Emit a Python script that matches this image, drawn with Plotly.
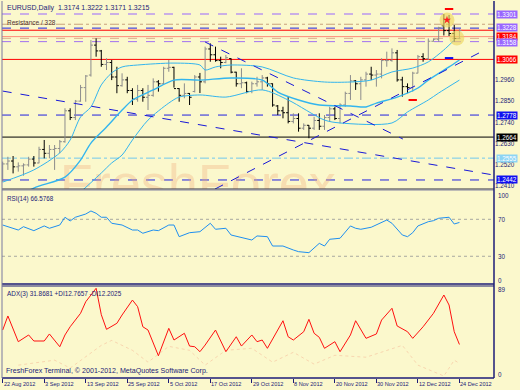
import plotly.graph_objects as go

BG = "#FBF8CC"
NAVY = "#1C1C78"
FONT = "Liberation Sans"

# ---------------- data ----------------
tick_idx = [0, 8, 16, 24, 32, 40, 48, 56, 64, 72, 80, 88]
tick_labels = ["22 Aug 2012", "3 Sep 2012", "13 Sep 2012", "25 Sep 2012", "5 Oct 2012",
               "17 Oct 2012", "29 Oct 2012", "8 Nov 2012", "20 Nov 2012", "30 Nov 2012",
               "12 Dec 2012", "24 Dec 2012"]

opens = [1.2440, 1.2525, 1.2540, 1.2510, 1.2515, 1.2520, 1.2550, 1.2530, 1.2600, 1.2580,
         1.2600, 1.2605, 1.2640, 1.2800, 1.2765, 1.2850, 1.2920, 1.2985, 1.3140, 1.3110,
         1.3040, 1.3050, 1.2975, 1.2930, 1.2960, 1.2905, 1.2860, 1.2905, 1.2870, 1.2880,
         1.2950, 1.2940, 1.3020, 1.3025, 1.2915, 1.2880, 1.2890, 1.2900, 1.2975, 1.2950,
         1.3120, 1.3090, 1.3060, 1.3050, 1.3070, 1.3000, 1.2940, 1.2945, 1.2900, 1.2940,
         1.2950, 1.2970, 1.2940, 1.2825, 1.2800, 1.2790, 1.2745, 1.2760, 1.2710, 1.2725,
         1.2710, 1.2750, 1.2720, 1.2765, 1.2810, 1.2760, 1.2830, 1.2890, 1.2955, 1.2940,
         1.2960, 1.2990, 1.2985, 1.2990, 1.3060, 1.3060, 1.3100, 1.2960, 1.2925, 1.2920,
         1.2995, 1.3080, 1.3070, 1.3160, 1.3170, 1.3240, 1.3215, 1.3200, 1.3174]
highs = [1.2537, 1.2562, 1.2566, 1.2533, 1.2528, 1.2562, 1.2566, 1.2614, 1.2649, 1.2623,
         1.2623, 1.2649, 1.2813, 1.2813, 1.2856, 1.2934, 1.2985, 1.3166, 1.3175, 1.3115,
         1.3072, 1.3063, 1.3028, 1.2994, 1.2976, 1.2917, 1.2934, 1.2917, 1.2934, 1.2968,
         1.2959, 1.3028, 1.3063, 1.3028, 1.2917, 1.2942, 1.2892, 1.2985, 1.2996, 1.3132,
         1.3149, 1.3132, 1.3080, 1.3089, 1.3072, 1.3002, 1.3020, 1.2951, 1.2951, 1.2976,
         1.2985, 1.2976, 1.2942, 1.2830, 1.2821, 1.2873, 1.2787, 1.2787, 1.2735, 1.2726,
         1.2769, 1.2787, 1.2778, 1.2821, 1.2821, 1.2839, 1.2899, 1.2985, 1.2959, 1.2976,
         1.3002, 1.3028, 1.3011, 1.3072, 1.3106, 1.3123, 1.3115, 1.2976, 1.2942, 1.3002,
         1.3089, 1.3098, 1.3175, 1.3175, 1.3235, 1.3301, 1.3296, 1.3244, 1.3222]
lows = [1.2433, 1.2494, 1.2476, 1.2485, 1.2464, 1.2511, 1.2511, 1.2528, 1.2554, 1.2554,
        1.2494, 1.2580, 1.2635, 1.2752, 1.2752, 1.2847, 1.2847, 1.2977, 1.3080, 1.3028,
        1.3011, 1.2959, 1.2891, 1.2925, 1.2891, 1.2830, 1.2847, 1.2847, 1.2804, 1.2873,
        1.2899, 1.2934, 1.3002, 1.2920, 1.2847, 1.2865, 1.2830, 1.2895, 1.2892, 1.2942,
        1.3054, 1.3054, 1.3020, 1.3046, 1.2994, 1.2925, 1.2917, 1.2891, 1.2891, 1.2925,
        1.2908, 1.2925, 1.2821, 1.2778, 1.2761, 1.2735, 1.2735, 1.2692, 1.2701, 1.2658,
        1.2701, 1.2701, 1.2701, 1.2743, 1.2752, 1.2735, 1.2821, 1.2856, 1.2908, 1.2856,
        1.2925, 1.2959, 1.2925, 1.2968, 1.3028, 1.3054, 1.2951, 1.2873, 1.2891, 1.2899,
        1.2994, 1.3054, 1.3063, 1.3158, 1.3158, 1.3190, 1.3187, 1.3158, 1.3171]
closes = [1.2525, 1.2540, 1.2510, 1.2515, 1.2520, 1.2550, 1.2530, 1.2600, 1.2580, 1.2600,
          1.2605, 1.2640, 1.2800, 1.2765, 1.2850, 1.2920, 1.2980, 1.3140, 1.3110, 1.3040,
          1.3050, 1.2975, 1.2930, 1.2960, 1.2905, 1.2860, 1.2905, 1.2870, 1.2880, 1.2950,
          1.2940, 1.3020, 1.3025, 1.2915, 1.2880, 1.2890, 1.2870, 1.2975, 1.2950, 1.3120,
          1.3090, 1.3060, 1.3050, 1.3075, 1.3000, 1.2940, 1.2945, 1.2900, 1.2940, 1.2950,
          1.2970, 1.2940, 1.2830, 1.2800, 1.2790, 1.2745, 1.2760, 1.2710, 1.2725, 1.2710,
          1.2750, 1.2720, 1.2765, 1.2810, 1.2760, 1.2830, 1.2890, 1.2955, 1.2940, 1.2960,
          1.2990, 1.2985, 1.2990, 1.3060, 1.3060, 1.3100, 1.2960, 1.2925, 1.2920, 1.2995,
          1.3080, 1.3070, 1.3160, 1.3170, 1.3230, 1.3215, 1.3200, 1.3174, 1.3215]
bar_idx = list(range(len(opens)))

# three light-blue band lines (read at sampled bars)
upper_idx = [0, 6, 11, 13, 15, 17, 19, 21, 23, 26, 33, 38, 39, 41, 44, 50, 56, 62, 67, 71, 75, 79, 82, 85, 87]
upper_px = [1.2431, 1.2494, 1.2582, 1.2649, 1.2768, 1.2820, 1.2934, 1.2996, 1.3027, 1.3037,
            1.3047, 1.3037, 1.3011, 1.3027, 1.3037, 1.3027, 1.2970, 1.2949, 1.2949, 1.2959,
            1.3001, 1.3021, 1.3053, 1.3115, 1.3166]
mid_idx = [0, 6, 12, 15, 17, 20, 23, 25, 26, 29, 33, 38, 44, 50, 53, 57, 61, 67, 70, 72, 76, 80, 82, 86, 88]
mid_px = [1.2312, 1.2400, 1.2457, 1.2545, 1.2633, 1.2716, 1.2804, 1.2856, 1.2871, 1.2908,
          1.2959, 1.2959, 1.2970, 1.2959, 1.2897, 1.2856, 1.2830, 1.2825, 1.2820, 1.2840,
          1.2871, 1.2918, 1.2959, 1.3027, 1.3063]
lower_idx = [13, 15, 19, 21, 23, 25, 28, 32, 34, 38, 43, 50, 55, 62, 65, 75, 78, 82, 84, 88]
lower_px = [1.2338, 1.2380, 1.2478, 1.2530, 1.2571, 1.2649, 1.2752, 1.2840, 1.2871, 1.2882,
            1.2871, 1.2908, 1.2856, 1.2752, 1.2737, 1.2737, 1.2794, 1.2856, 1.2892, 1.2959]

# dashed blue trend lines: (start bar, start price, end bar, end price)
trend_x0 = [0, 39.0, 40.9]
trend_p0 = [1.2902, 1.3156, 1.2395]
trend_x1 = [94.5, 77.1, 92.9]
trend_p1 = [1.2468, 1.2654, 1.3115]

# horizontal levels
levels = [1.3301, 1.3248, 1.3228, 1.3217, 1.3184, 1.3175, 1.3158, 1.3066, 1.2778, 1.2664, 1.2555, 1.2442]
level_color = ["#9966FF", "#C8A07A", "#2020E0", "#FF0000", "#FF8C7A", "#D8B090", "#A070F0",
               "#FF0000", "#2020E0", "#000000", "#70C8EE", "#2020E0"]
level_dash = ["dash", "dashdot", "dash", "solid", "solid", "dash", "dash",
              "solid", "dash", "solid", "dashdot", "dash"]
level_box = ["#9966FF", None, "#9966FF", None, "#FF0000", None, "#9966FF",
             "#FF0000", "#1010F0", "#000000", "#8CD4F4", "#1010F0"]
level_nudge = [0, 0, 1, 0, 0.5, 0, -1, 0, 0, 0, 0, 0]

# markers near the December top
fractal_idx = [86, 86, 79]
fractal_px = [1.3327, 1.3073, 1.2856]
fractal_col = ["#FF0000", "#1010F0", "#FF0000"]
circle_idx = [85.6, 87.5]
circle_px = [1.3270, 1.3177]

# RSI(14)
rsi_idx = [0, 1, 3, 4, 6, 8, 9, 11, 12, 13, 14, 16, 17, 18, 19, 20, 21, 23, 25, 26, 27, 29, 30,
           32, 33, 34, 36, 38, 40, 41, 43, 44, 46, 48, 49, 51, 52, 54, 56, 57, 59, 60, 61, 62,
           63, 65, 67, 68, 69, 71, 72, 74, 75, 77, 78, 79, 80, 82, 83, 84, 86, 87, 88]
rsi_val = [63.8, 62.0, 58.4, 62.0, 57.7, 62.8, 60.3, 63.8, 72.2, 68.2, 72.2, 75.7, 79.0, 76.5,
           72.2, 72.2, 65.7, 63.8, 58.4, 58.4, 54.9, 58.4, 57.7, 63.8, 63.8, 51.2, 55.5, 56.6,
           65.7, 59.2, 60.3, 53.0, 50.5, 47.6, 52.0, 51.2, 41.1, 41.1, 36.8, 35.0, 33.9, 38.6,
           44.0, 41.1, 48.4, 49.5, 62.8, 60.3, 59.2, 61.4, 63.8, 69.2, 65.7, 53.0, 51.2, 55.5,
           62.8, 67.4, 68.5, 71.1, 72.2, 64.9, 66.6]
rsi_ticks = [100, 70, 30, 0]

# ADX(3)
adx_idx = [0, 1, 3, 5, 6, 8, 9, 11, 12, 13, 15, 16, 18, 19, 20, 22, 23, 25, 26, 27, 28, 30,
           32, 33, 35, 36, 37, 38, 39, 41, 43, 45, 46, 48, 49, 50, 51, 53, 54, 55, 56, 58, 59,
           60, 61, 62, 64, 65, 67, 68, 70, 72, 73, 75, 76, 78, 79, 81, 83, 85, 86, 87, 88]
adx_val = [46.5, 60.7, 34.7, 41.5, 35.4, 35.4, 42.5, 29.6, 41.5, 49.8, 63.4, 75.1, 88.7, 62.0,
           47.2, 53.3, 61.7, 76.8, 70.1, 49.8, 46.5, 20.5, 48.2, 36.4, 43.2, 30.3, 29.6, 24.6,
           31.3, 46.5, 24.6, 39.7, 30.3, 41.5, 34.7, 36.4, 28.0, 46.5, 55.9, 39.7, 36.4, 44.8,
           57.3, 43.2, 39.1, 28.0, 34.7, 24.6, 41.5, 55.9, 38.1, 42.5, 56.6, 68.5, 50.6, 44.8,
           38.1, 49.8, 63.4, 81.9, 71.8, 44.8, 31.9]
di_idx = [3, 10, 13, 19, 21, 25, 28, 32, 36, 39, 43, 48, 52, 56, 60, 64, 70, 77, 80, 85, 87, 88]
di_val = [11, 16, 8, 31, 36, 26, 14, 30, 26, 11, 26, 28, 14, 24, 12, 21, 19, 31, 11, 0, 16, 12.8]
adx_ticks = [89, 0]

# ---------------- figure ----------------
XR = [-0.135, 94.66]
D_MAIN = [0.5013, 1.0]
D_RSI = [0.2493, 0.4987]
D_ADX = [0.0, 0.2440]

fig = go.Figure()

# watermark (clipped by the main plot area)
fig.add_trace(go.Scatter(x=[37.6], y=[1.2396], mode="text", text=["FreshForex"],
                         textfont=dict(family=FONT, size=54, color="rgba(240,170,120,0.33)"),
                         textposition="middle center", hoverinfo="skip", showlegend=False,
                         cliponaxis=True, xaxis="x", yaxis="y"))

for ix, px, w in [(upper_idx, upper_px, 1), (mid_idx, mid_px, 1.4), (lower_idx, lower_px, 1)]:
    fig.add_trace(go.Scatter(x=ix, y=px, mode="lines", line=dict(color="#33B5EE", width=w, shape="spline", smoothing=0.8),
                             hoverinfo="skip", showlegend=False, xaxis="x", yaxis="y"))

for a, pa, b, pb in zip(trend_x0, trend_p0, trend_x1, trend_p1):
    fig.add_trace(go.Scatter(x=[a, b], y=[pa, pb], mode="lines",
                             line=dict(color="#1818D8", width=1, dash="dash"),
                             hoverinfo="skip", showlegend=False, xaxis="x", yaxis="y"))

fig.add_trace(go.Scatter(x=circle_idx, y=circle_px, mode="markers",
                         marker=dict(size=15, color="rgba(236,214,96,0.65)", line=dict(width=0)),
                         hoverinfo="skip", showlegend=False, xaxis="x", yaxis="y"))

fig.add_trace(go.Ohlc(x=bar_idx, open=opens, high=highs, low=lows, close=closes,
                      increasing=dict(line=dict(color="#8C8C8C", width=1)),
                      decreasing=dict(line=dict(color="#000000", width=1)),
                      tickwidth=0.4, hoverinfo="skip", showlegend=False, xaxis="x", yaxis="y"))

fig.add_trace(go.Scatter(x=[circle_idx[0]], y=[circle_px[0]], mode="markers",
                         marker=dict(size=6, symbol="star", color="#FF2020"),
                         hoverinfo="skip", showlegend=False, xaxis="x", yaxis="y"))
fig.add_trace(go.Scatter(x=fractal_idx, y=fractal_px, mode="markers",
                         marker=dict(size=6, symbol="line-ew", line=dict(color=fractal_col, width=2)),
                         hoverinfo="skip", showlegend=False, xaxis="x", yaxis="y"))

# RSI
fig.add_trace(go.Scatter(x=rsi_idx, y=rsi_val, mode="lines", line=dict(color="#1E8FF0", width=1),
                         hoverinfo="skip", showlegend=False, xaxis="x2", yaxis="y2"))
# ADX and DI
fig.add_trace(go.Scatter(x=di_idx, y=di_val, mode="lines", line=dict(color="rgba(240,150,120,0.35)", width=1, dash="dot"),
                         hoverinfo="skip", showlegend=False, xaxis="x3", yaxis="y3"))
fig.add_trace(go.Scatter(x=adx_idx, y=adx_val, mode="lines", line=dict(color="#FF1010", width=1),
                         hoverinfo="skip", showlegend=False, xaxis="x3", yaxis="y3"))

AX_FS = 6.3
shapes = []
annotations = []
for lv, col, ds, box, nd in zip(levels, level_color, level_dash, level_box, level_nudge):
    shapes.append(dict(type="line", xref="x domain", x0=0, x1=1, yref="y", y0=lv, y1=lv,
                       line=dict(color=col, width=1, dash=ds), layer="below"))
    if box:
        annotations.append(dict(xref="paper", x=1, xanchor="left", xshift=2, yref="y", y=lv,
                                yanchor="middle", yshift=nd, text=f"{lv:.4f}", showarrow=False,
                                bgcolor=box, borderpad=0,
                                font=dict(family=FONT, size=AX_FS, color="white")))
for lv in [70, 30]:
    shapes.append(dict(type="line", xref="x2 domain", x0=0, x1=1, yref="y2", y0=lv, y1=lv,
                       line=dict(color="#A8A8A0", width=1, dash="dot"), layer="below"))

# panel borders
def hline(y, color, w=1):
    shapes.append(dict(type="line", xref="paper", yref="paper", x0=0, x1=1, y0=y, y1=y,
                       line=dict(color=color, width=w)))
hline(D_MAIN[0], "#303040")
hline(D_RSI[1], "#8080A0")
hline(D_RSI[0], NAVY, 1.5)
hline(D_ADX[1], NAVY, 1)
hline(0, NAVY, 1.5)
shapes.append(dict(type="line", xref="paper", yref="paper", x0=1, x1=1, y0=0, y1=1,
                   line=dict(color=NAVY, width=1.5)))
shapes.append(dict(type="line", xref="paper", yref="paper", x0=0, x1=0, y0=0, y1=1,
                   line=dict(color="#7878A0", width=1)))

small = dict(family=FONT, size=7, color=NAVY)
axf = dict(family=FONT, size=AX_FS, color=NAVY)
annotations += [
    dict(xref="paper", yref="paper", x=0, y=1, xanchor="left", yanchor="top", xshift=3, yshift=-1,
         text="EURUSD,Daily  1.3174 1.3222 1.3171 1.3215", showarrow=False, font=small),
    dict(xref="paper", yref="y", x=0, y=1.3228, xanchor="left", yanchor="bottom", xshift=3,
         text="Resistance / 328", showarrow=False, font=dict(family=FONT, size=6.5, color="#503030")),
    dict(xref="paper", yref="paper", x=0, y=D_RSI[1], xanchor="left", yanchor="top", xshift=3, yshift=-3,
         text="RSI(14) 66.5768", showarrow=False, font=dict(family=FONT, size=6.3, color=NAVY)),
    dict(xref="paper", yref="paper", x=0, y=D_ADX[1], xanchor="left", yanchor="top", xshift=3, yshift=-2,
         text="ADX(3) 31.8681 +DI12.7657 -DI12.2025", showarrow=False,
         font=dict(family=FONT, size=6.4, color=NAVY)),
    dict(xref="paper", yref="paper", x=0, y=0, xanchor="left", yanchor="bottom", xshift=2, yshift=1,
         text="FreshForex Terminal, © 2001-2012, MetaQuotes Software Corp.", showarrow=False,
         font=dict(family=FONT, size=7.1, color=NAVY)),
]
# indicator scale labels (MT4 keeps the extreme labels inside the window)
for v, ys in zip(rsi_ticks, [-4, 0, 0, 4]):
    annotations.append(dict(xref="paper", x=1, xanchor="left", xshift=2, yref="y2", y=v,
                            yanchor="middle", yshift=ys, text=str(v), showarrow=False, font=axf))
for v, ys in zip(adx_ticks, [-2, 2]):
    annotations.append(dict(xref="paper", x=1, xanchor="left", xshift=2, yref="y3", y=v,
                            yanchor="middle", yshift=ys, text=str(v), showarrow=False, font=axf))
for ti, tl in zip(tick_idx, tick_labels):
    annotations.append(dict(xref="x3", yref="paper", x=ti, y=0, xanchor="left", yanchor="top",
                            xshift=-1, yshift=-1, text=tl, showarrow=False,
                            font=dict(family=FONT, size=5.6, color=NAVY)))

axis_common = dict(showgrid=False, zeroline=False, showline=False)
fig.update_layout(
    template="none",
    width=520, height=390,
    margin=dict(l=2, r=26, t=1, b=12, pad=0),
    paper_bgcolor=BG, plot_bgcolor=BG,
    showlegend=False,
    xaxis=dict(domain=[0, 1], anchor="y", range=XR, showticklabels=False, ticks="",
               rangeslider=dict(visible=False), **axis_common),
    xaxis2=dict(domain=[0, 1], anchor="y2", range=XR, showticklabels=False, ticks="", **axis_common),
    xaxis3=dict(domain=[0, 1], anchor="y3", range=XR, showticklabels=False, ticks="outside",
                ticklen=4, tickcolor=NAVY, tickwidth=1, tickvals=tick_idx, **axis_common),
    yaxis=dict(domain=D_MAIN, anchor="x", side="right", range=[1.23952, 1.33683],
               tickvals=[1.2960, 1.2850, 1.2740, 1.2630, 1.2520, 1.2410], tickformat=".4f",
               ticks="", tickfont=axf, automargin=False, **axis_common),
    yaxis2=dict(domain=D_RSI, anchor="x2", side="right", range=[0, 101.7],
                showticklabels=False, ticks="", automargin=False, **axis_common),
    yaxis3=dict(domain=D_ADX, anchor="x3", side="right", range=[-2, 91],
                showticklabels=False, ticks="", automargin=False, **axis_common),
    shapes=shapes,
    annotations=annotations,
    font=dict(family=FONT, size=7, color=NAVY),
)
fig.update_xaxes(automargin=False)

fig.write_html("out.html", config={"displayModeBar": False, "staticPlot": True},
               post_script="document.body.style.margin='0';document.body.style.padding='0';"
                           "document.body.style.background='" + BG + "';")
